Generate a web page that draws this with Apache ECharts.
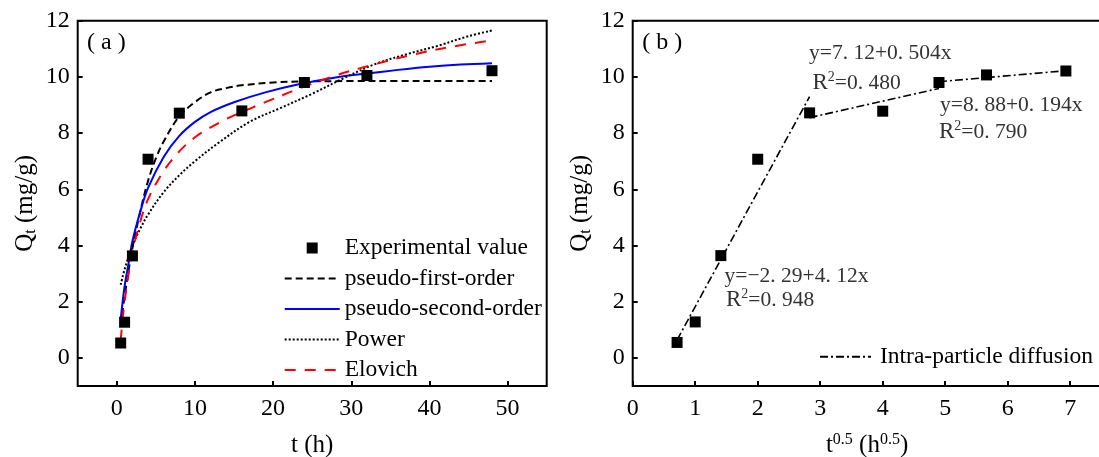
<!DOCTYPE html>
<html><head><meta charset="utf-8">
<script src="https://cdn.jsdelivr.net/npm/echarts@6/dist/echarts.min.js"></script>
<style>html,body{margin:0;padding:0;background:#fff}#c{width:1099px;height:457px}</style>
</head><body><div id="c"></div>
<script>
// ---- data ----
const tHours = [0.5, 1, 2, 4, 8, 16, 24, 32, 48];
const qExp = [0.53, 1.27, 3.63, 7.07, 8.71, 8.79, 9.80, 10.05, 10.22];

const pfoT = [0.5, 1, 2, 3, 4, 5, 6, 8, 10, 12, 14, 16, 20, 24, 30, 36, 42, 48];
const pfoQ = [1.15, 2.2, 3.9, 5.2, 6.3, 7.1, 7.7, 8.6, 9.1, 9.45, 9.6, 9.7, 9.8, 9.84, 9.85, 9.85, 9.85, 9.85];

const psoT = [0.5, 1, 1.5, 2, 3, 4, 6, 8, 10, 12, 15, 19, 23, 28, 32, 36, 40, 44, 48];
const psoQ = [1.38, 2.55, 3.35, 4.15, 5.2, 6.05, 7.15, 7.9, 8.4, 8.75, 9.1, 9.45, 9.72, 9.98, 10.12, 10.25, 10.36, 10.44, 10.49];

const powT = [0.5, 1, 2, 3, 4, 6, 8, 10, 13, 17, 21, 25, 29, 33, 37, 41, 45, 48];
const powQ = [2.6, 3.15, 4.0, 4.6, 5.1, 5.9, 6.5, 7.0, 7.65, 8.4, 8.9, 9.4, 9.95, 10.45, 10.8, 11.1, 11.45, 11.65];

const eloT = [0.5, 1, 2, 3, 4, 6, 8, 10, 12, 14, 16, 19, 23, 28, 33, 38, 43, 48];
const eloQ = [0.62, 2.0, 3.75, 4.85, 5.65, 6.65, 7.35, 7.85, 8.2, 8.5, 8.75, 9.1, 9.55, 10.05, 10.45, 10.8, 11.08, 11.3];

const sqrtT = [0.71, 1.00, 1.41, 2.00, 2.83, 4.00, 4.90, 5.66, 6.93];
const qExpB = [0.55, 1.28, 3.64, 7.07, 8.72, 8.78, 9.80, 10.07, 10.21];

const seg1X = [0.71, 2.83], seg1Y = [0.64, 9.30];
const seg2X = [2.83, 4.90], seg2Y = [8.55, 9.59];
const seg3X = [4.90, 6.93], seg3Y = [9.83, 10.22];

const xTicksA = [0, 10, 20, 30, 40, 50];
const xTicksB = [0, 1, 2, 3, 4, 5, 6, 7];
const yTicks = [0, 2, 4, 6, 8, 10, 12];

const legendA = ['Experimental value', 'pseudo-first-order', 'pseudo-second-order', 'Power', 'Elovich'];
const legendB = ['Intra-particle diffusion'];

// ---- helpers ----
const zip = (xs, ys) => xs.map((x, i) => [x, ys[i]]);
const SERIF = '"Liberation Serif", "Times New Roman", serif';
const SQUARE = 'path://M0,0H10V10H0Z';

function mkX(idx, min, max, ticks, name) {
  return {
    type: 'value', gridIndex: idx, min: min, max: max,
    axisLine: { show: false, onZero: false },
    axisTick: { show: true, inside: true, length: 5, lineStyle: { color: '#000', width: 2 }, customValues: ticks },
    axisLabel: { show: true, fontFamily: SERIF, fontSize: 24, color: '#000', margin: 11, customValues: ticks },
    splitLine: { show: false },
    name: name, nameLocation: 'middle', nameGap: 47,
    nameTextStyle: {
      fontFamily: SERIF, fontSize: 25, color: '#000',
      rich: {
        n: { fontFamily: SERIF, fontSize: 25, color: '#000' },
        sup: { fontFamily: SERIF, fontSize: 16, lineHeight: 16, padding: [0, 0, 12, 0], color: '#000' }
      }
    }
  };
}
function mkY(idx) {
  return {
    type: 'value', gridIndex: idx, min: -1, max: 12,
    axisLine: { show: false, onZero: false },
    axisTick: { show: true, inside: true, length: 5, lineStyle: { color: '#000', width: 2 }, customValues: yTicks },
    axisLabel: { show: true, fontFamily: SERIF, fontSize: 24, color: '#000', margin: 8, customValues: yTicks },
    splitLine: { show: false },
    name: '{n|Q}{sub|t}{n| (mg/g)}', nameLocation: 'middle', nameGap: 40, nameRotate: 90,
    nameTextStyle: {
      fontFamily: SERIF, fontSize: 25, color: '#000',
      rich: {
        n: { fontFamily: SERIF, fontSize: 25, color: '#000' },
        sub: { fontFamily: SERIF, fontSize: 16, lineHeight: 16, padding: [12, 0, 0, 0], color: '#000' }
      }
    }
  };
}

const chart = echarts.init(document.getElementById('c'), null, { renderer: 'canvas' });
const eqStyle = (txt, x, y) => ({
  type: 'text', x: x, y: y, z: 100,
  style: {
    text: txt, fontFamily: SERIF, fontSize: 21.5, fill: '#333', verticalAlign: 'middle',
    rich: {
      r: { fontFamily: SERIF, fontSize: 23, fill: '#333', color: '#333' },
      s: { fontFamily: SERIF, fontSize: 14, lineHeight: 14, padding: [0, 0, 12, 0], fill: '#333', color: '#333' },
      n: { fontFamily: SERIF, fontSize: 21.5, fill: '#333', color: '#333' }
    }
  }
});
const lineItem = (name) => ({ name: name, itemStyle: { opacity: 0 } });

chart.setOption({
  animation: false,
  backgroundColor: '#fff',
  grid: [
    { left: 77.7, right: 552.3, top: 20.7, bottom: 71, show: true, borderColor: '#000', borderWidth: 2, backgroundColor: 'transparent', outerBoundsMode: 'none', containLabel: false },
    { left: 632.7, right: -2.5, top: 20.7, bottom: 71, show: true, borderColor: '#000', borderWidth: 2, backgroundColor: 'transparent', outerBoundsMode: 'none', containLabel: false }
  ],
  xAxis: [
    mkX(0, -5, 55, xTicksA, '{n|t (h)}'),
    mkX(1, 0, 7.5, xTicksB, '{n|t}{sup|0.5}{n| (h}{sup|0.5}{n|)}')
  ],
  yAxis: [mkY(0), mkY(1)],
  legend: [
    {
      data: [
        { name: legendA[0], icon: SQUARE, itemStyle: { opacity: 1, color: '#000' } },
        lineItem(legendA[1]), lineItem(legendA[2]), lineItem(legendA[3]), lineItem(legendA[4])
      ],
      orient: 'vertical', left: 283.7, top: 236, padding: 0,
      itemWidth: 55, itemHeight: 11, itemGap: 6.5, symbolKeepAspect: true,
      textStyle: { fontFamily: SERIF, fontSize: 23.5, color: '#000', lineHeight: 24 }
    },
    {
      data: [lineItem(legendB[0])],
      orient: 'vertical', left: 819, top: 344.7, padding: 0,
      itemWidth: 51, itemHeight: 11,
      textStyle: { fontFamily: SERIF, fontSize: 23.5, color: '#000', lineHeight: 24, padding: [0, 0, 0, 4] }
    }
  ],
  series: [
    { name: 'pseudo-first-order', type: 'line', xAxisIndex: 0, yAxisIndex: 0, data: zip(pfoT, pfoQ), smooth: 0.35,
      symbol: 'none', itemStyle: { color: '#000' }, lineStyle: { color: '#000', width: 2, type: [7, 4] } },
    { name: 'pseudo-second-order', type: 'line', xAxisIndex: 0, yAxisIndex: 0, data: zip(psoT, psoQ), smooth: 0.35,
      symbol: 'none', itemStyle: { color: '#0000ff' }, lineStyle: { color: '#0000ff', width: 2, type: 'solid' } },
    { name: 'Power', type: 'line', xAxisIndex: 0, yAxisIndex: 0, data: zip(powT, powQ), smooth: 0.35,
      symbol: 'none', itemStyle: { color: '#000' }, lineStyle: { color: '#000', width: 2, type: [2, 2] } },
    { name: 'Elovich', type: 'line', xAxisIndex: 0, yAxisIndex: 0, data: zip(eloT, eloQ), smooth: 0.35,
      symbol: 'none', itemStyle: { color: '#ff0000' }, lineStyle: { color: '#ff0000', width: 2, type: [11, 9] } },
    { name: 'Experimental value', type: 'scatter', xAxisIndex: 0, yAxisIndex: 0, data: zip(tHours, qExp),
      symbol: 'rect', symbolSize: 11, itemStyle: { color: '#000', opacity: 1 }, z: 5 },

    { name: 'Qt-sqrt', type: 'scatter', xAxisIndex: 1, yAxisIndex: 1, data: zip(sqrtT, qExpB),
      symbol: 'rect', symbolSize: 11, itemStyle: { color: '#000', opacity: 1 }, z: 5 },
    { name: 'Intra-particle diffusion', type: 'line', xAxisIndex: 1, yAxisIndex: 1, data: zip(seg1X, seg1Y),
      symbol: 'none', itemStyle: { color: '#000' }, lineStyle: { color: '#000', width: 1.6, type: [8, 3, 2, 3] } },
    { name: 'Intra-particle diffusion', type: 'line', xAxisIndex: 1, yAxisIndex: 1, data: zip(seg2X, seg2Y),
      symbol: 'none', itemStyle: { color: '#000' }, lineStyle: { color: '#000', width: 1.6, type: [8, 3, 2, 3] } },
    { name: 'Intra-particle diffusion', type: 'line', xAxisIndex: 1, yAxisIndex: 1, data: zip(seg3X, seg3Y),
      symbol: 'none', itemStyle: { color: '#000' }, lineStyle: { color: '#000', width: 1.6, type: [8, 3, 2, 3] } }
  ],
  graphic: [
    { type: 'text', x: 87, y: 43, z: 100, style: { text: '( a )', fontFamily: SERIF, fontSize: 24, fill: '#000', verticalAlign: 'middle' } },
    { type: 'text', x: 642.3, y: 43, z: 100, style: { text: '( b )', fontFamily: SERIF, fontSize: 24, fill: '#000', verticalAlign: 'middle' } },
    eqStyle('y=7. 12+0. 504x', 809, 53.3),
    eqStyle('{r|R}{s|2}{n|=0. 480}', 812.5, 83.3),
    eqStyle('y=8. 88+0. 194x', 940, 105),
    eqStyle('{r|R}{s|2}{n|=0. 790}', 939, 132),
    eqStyle('y=\u22122. 29+4. 12x', 724.6, 276),
    eqStyle('{r|R}{s|2}{n|=0. 948}', 726, 300)
  ]
});
</script>
</body></html>
